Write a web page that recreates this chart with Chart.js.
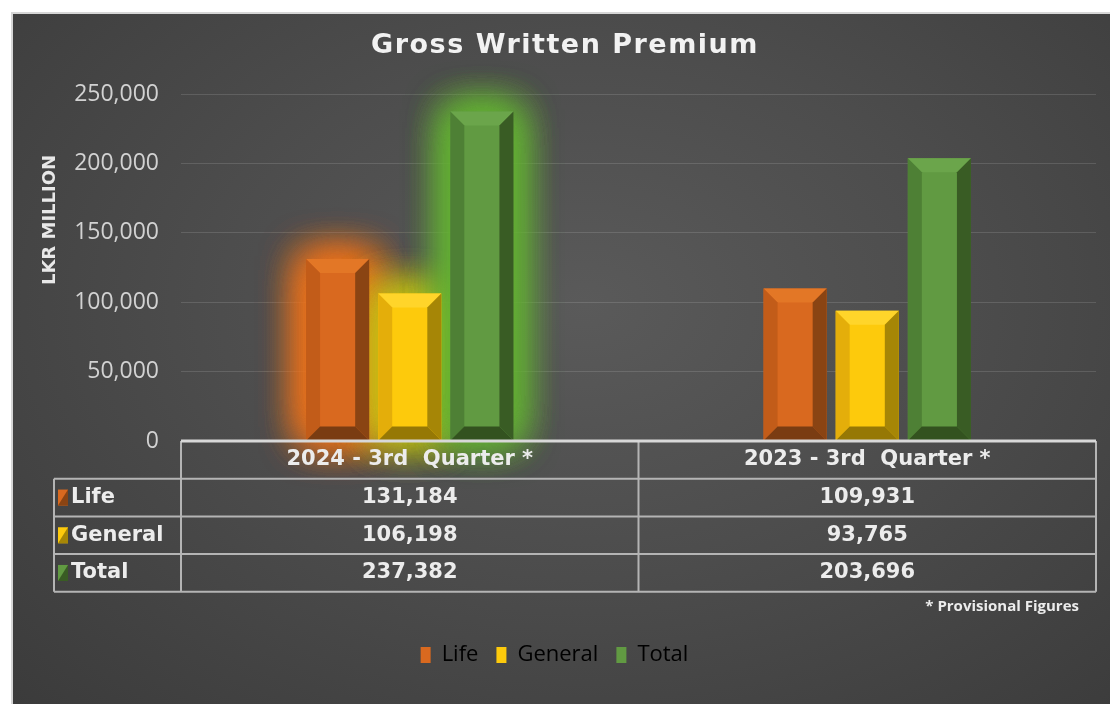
<!DOCTYPE html>
<html>
<head>
<meta charset="utf-8">
<script src="https://cdn.jsdelivr.net/npm/chart.js@4"></script>
<style>
	body { margin: 0; background: #ffffff; }
	#panel {
		position: absolute;
		left: 11px;
		top: 12px;
		width: 1099px;
		height: 692px;
		border-left: 2px solid #d6d6d6;
		border-top: 2px solid #d6d6d6;
		background: radial-gradient(ellipse at 52% 42%, #5a5a5a 0%, #4d4d4d 45%, #3b3b3b 100%);
	}
</style>
</head>
<body>
<div id="panel"><canvas id="grafico"></canvas></div>
<script>
// dados do gráfico
const categorias = ['2024 - 3rd  Quarter *', '2023 - 3rd  Quarter *'];
const series = ['Life', 'General', 'Total'];
const life = [131184, 109931];
const general = [106198, 93765];
const total = [237382, 203696];
const yTicks = [0, 50000, 100000, 150000, 200000, 250000];

// cores: face, topo, esquerda, direita, base, brilho
const cores = [
	{ face: '#d9691f', top: '#e37726', left: '#c25c19', right: '#8a4413', bottom: '#7a3c12', glow: 'rgba(240,115,25,0.75)' },
	{ face: '#fdca0c', top: '#ffd52a', left: '#e4ae0a', right: '#a68606', bottom: '#967805', glow: 'rgba(200,195,20,0.7)' },
	{ face: '#619a42', top: '#6ba54b', left: '#4e8035', right: '#395c24', bottom: '#33521f', glow: 'rgba(100,180,50,0.8)' },
];

const fmt = (v) => v.toLocaleString('en-US');

// brilho atrás das barras do primeiro grupo
const brilho = {
	id: 'brilho',
	beforeDatasetsDraw(chart) {
		const ctx = chart.ctx;
		chart.data.datasets.forEach((ds, i) => {
			const bar = chart.getDatasetMeta(i).data[0];
			const p = bar.getProps(['x', 'y', 'base', 'width'], true);
			ctx.save();
			ctx.shadowColor = cores[i].glow;
			ctx.shadowBlur = 40;
			ctx.shadowOffsetX = 10000;
			ctx.fillStyle = '#000';
			for (let k = 0; k < 4; k++) {
				ctx.fillRect(p.x - p.width / 2 - 10000 - 3, p.y - 3, p.width + 6, p.base - p.y + 3);
			}
			ctx.restore();
		});
	},
};

// efeito chanfrado nas barras
const chanfro = {
	id: 'chanfro',
	afterDatasetsDraw(chart) {
		const ctx = chart.ctx;
		chart.data.datasets.forEach((ds, i) => {
			chart.getDatasetMeta(i).data.forEach((bar) => {
				const p = bar.getProps(['x', 'y', 'base', 'width'], true);
				const l = p.x - p.width / 2, r = p.x + p.width / 2, t = p.y, b = p.base;
				const d = Math.min(14, p.width / 4, (b - t) / 2);
				const poly = (pts, cor) => {
					ctx.beginPath();
					ctx.moveTo(pts[0][0], pts[0][1]);
					pts.slice(1).forEach((q) => ctx.lineTo(q[0], q[1]));
					ctx.closePath();
					ctx.fillStyle = cor;
					ctx.fill();
				};
				poly([[l, t], [r, t], [r - d, t + d], [l + d, t + d]], cores[i].top);
				poly([[l, t], [l + d, t + d], [l + d, b - d], [l, b]], cores[i].left);
				poly([[r, t], [r, b], [r - d, b - d], [r - d, t + d]], cores[i].right);
				poly([[l, b], [r, b], [r - d, b - d], [l + d, b - d]], cores[i].bottom);
			});
		});
	},
};

// título, título do eixo, tabela de dados e nota
const tabela = {
	id: 'tabela',
	afterDraw(chart) {
		const ctx = chart.ctx;
		const area = chart.chartArea;
		const xs = chart.scales.x;
		const top = area.bottom;
		const rowH = 37.7;
		const leftCol = 41;
		const meio = (xs.getPixelForValue(0) + xs.getPixelForValue(1)) / 2;

		// título
		ctx.save();
		ctx.font = 'bold 27px "DejaVu Sans"';
		ctx.letterSpacing = '1.5px';
		ctx.fillStyle = '#f2f2f2';
		ctx.textAlign = 'center';
		ctx.textBaseline = 'middle';
		ctx.fillText('Gross Written Premium', 552, 32);
		ctx.restore();

		// título do eixo y
		ctx.save();
		ctx.translate(37, 206);
		ctx.rotate(-Math.PI / 2);
		ctx.font = 'bold 18px "DejaVu Sans"';
		ctx.fillStyle = '#e8e8e8';
		ctx.textAlign = 'center';
		ctx.textBaseline = 'middle';
		ctx.fillText('LKR MILLION', 0, 0);
		ctx.restore();

		ctx.save();
		ctx.strokeStyle = '#b4b4b4';
		ctx.lineWidth = 2;
		const linha = (x1, y1, x2, y2) => {
			ctx.beginPath();
			ctx.moveTo(x1, y1);
			ctx.lineTo(x2, y2);
			ctx.stroke();
		};
		// linhas horizontais
		for (let k = 1; k <= 4; k++) {
			linha(leftCol, top + rowH * k, area.right, top + rowH * k);
		}
		// linhas verticais
		linha(area.left, top, area.left, top + rowH * 4);
		linha(meio, top, meio, top + rowH * 4);
		linha(area.right, top, area.right, top + rowH * 4);
		linha(leftCol, top + rowH, leftCol, top + rowH * 4);
		// eixo zero
		ctx.strokeStyle = '#d8d8d8';
		ctx.lineWidth = 3;
		linha(area.left, top, area.right, top);

		ctx.fillStyle = '#ececec';
		ctx.font = 'bold 21px "DejaVu Sans"';
		ctx.textBaseline = 'middle';
		ctx.textAlign = 'center';
		categorias.forEach((c, j) => {
			ctx.fillText(c, xs.getPixelForValue(j), top + rowH / 2);
		});
		chart.data.datasets.forEach((ds, i) => {
			const yc = top + rowH * (i + 1.5);
			ds.data.forEach((v, j) => {
				ctx.textAlign = 'center';
				ctx.fillText(fmt(v), xs.getPixelForValue(j), yc);
			});
			ctx.fillStyle = cores[i].face;
			ctx.fillRect(leftCol + 4, yc - 8, 10, 16);
			ctx.fillStyle = cores[i].right;
			ctx.beginPath();
			ctx.moveTo(leftCol + 14, yc - 8);
			ctx.lineTo(leftCol + 14, yc + 8);
			ctx.lineTo(leftCol + 4, yc + 8);
			ctx.closePath();
			ctx.fill();
			ctx.fillStyle = '#ececec';
			ctx.textAlign = 'left';
			ctx.fillText(ds.label, leftCol + 17, yc);
		});

		ctx.font = 'bold 15px "Open Sans"';
		ctx.textAlign = 'right';
		ctx.fillText('* Provisional Figures', 1066, top + rowH * 4 + 15);
		ctx.restore();
	},
};

const datasets = [life, general, total].map((d, i) => ({
	label: series[i],
	data: d,
	backgroundColor: cores[i].face,
	borderWidth: 0,
	categoryPercentage: 0.473,
	barPercentage: 0.875,
}));

new Chart(document.getElementById('grafico'), {
	type: 'bar',
	data: { labels: categorias, datasets: datasets },
	plugins: [brilho, chanfro, tabela],
	options: {
		responsive: true,
		maintainAspectRatio: false,
		animation: false,
		layout: { padding: { top: 80, right: 16, bottom: 30, left: 0 } },
		plugins: {
			title: { display: false },
			tooltip: { enabled: false },
			legend: {
				position: 'bottom',
				labels: {
					color: '#e0e0e0',
					font: { family: 'Open Sans', size: 22 },
					boxWidth: 10,
					boxHeight: 16,
					padding: 18,
					generateLabels: (chart) => series.map((s, i) => ({
						text: s,
						fillStyle: cores[i].face,
						strokeStyle: cores[i].face,
						lineWidth: 0,
						datasetIndex: i,
					})),
				},
			},
		},
		scales: {
			x: {
				grid: { display: false },
				border: { display: false },
				ticks: { display: false },
				afterFit: (scale) => { scale.height = 185; },
			},
			y: {
				min: 0,
				max: 250000,
				afterBuildTicks: (scale) => { scale.ticks = yTicks.map((v) => ({ value: v })); },
				afterFit: (scale) => { scale.width = 168; },
				grid: { color: 'rgba(255,255,255,0.13)', drawTicks: false },
				border: { display: false },
				ticks: {
					color: '#d2d2d2',
					font: { family: 'Open Sans', size: 23 },
					padding: 22,
					callback: (v) => fmt(v),
				},
			},
		},
	},
});
</script>
</body>
</html>
